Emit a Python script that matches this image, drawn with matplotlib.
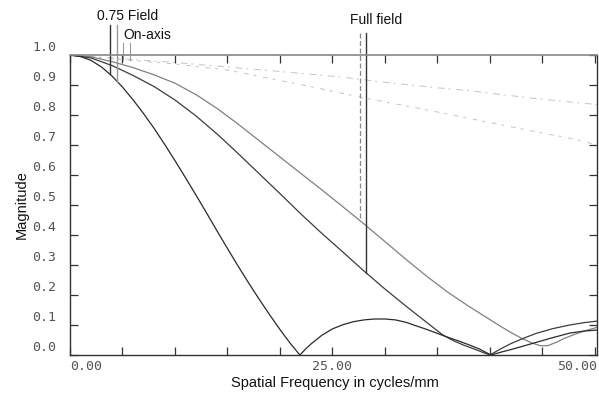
import numpy as np
import matplotlib
matplotlib.use("Agg")
import matplotlib.pyplot as plt

# ---- data ----
fA = [0, 1, 2, 3, 4, 5, 6, 7, 8, 9, 10, 11, 12, 13, 14, 15, 16, 17, 18, 19, 20, 21, 21.9,
      22.5, 23, 24, 25, 26, 27, 28, 29, 30, 31, 32, 33, 34, 35, 36, 37, 38, 39, 40.1,
      41, 42, 43, 44.4, 46, 47.6, 49, 50.2]
mA = [1.0, 0.995, 0.982, 0.96, 0.93, 0.893, 0.851, 0.805, 0.756, 0.703, 0.648, 0.591, 0.533,
      0.474, 0.414, 0.355, 0.297, 0.241, 0.187, 0.135, 0.085, 0.038, 0.0,
      0.022, 0.038, 0.066, 0.087, 0.101, 0.111, 0.117, 0.12, 0.12, 0.117, 0.109, 0.097,
      0.085, 0.072, 0.059, 0.047, 0.034, 0.02, 0.0,
      0.009, 0.018, 0.028, 0.042, 0.058, 0.073, 0.08, 0.083]

fB = [0, 2, 4, 6, 8, 10, 12, 14, 16, 18, 20, 22, 24, 26, 28, 30, 32, 34, 35.5,
      36.5, 37.5, 38.5, 39.3, 40, 41, 42, 43, 44.4, 46, 47.6, 49, 50.2]
mB = [1.0, 0.99, 0.965, 0.932, 0.895, 0.85, 0.797, 0.737, 0.672, 0.605, 0.538, 0.47, 0.405,
      0.343, 0.28, 0.22, 0.163, 0.108, 0.067, 0.048, 0.033, 0.02, 0.009, 0.0, 0.02, 0.038,
      0.053, 0.072, 0.088, 0.1, 0.108, 0.113]

fC = [0, 2, 4, 6, 8, 10, 12, 14, 16, 18, 20, 22, 24, 26, 28, 30, 32, 34, 36, 38, 40, 41,
      42, 43, 44, 44.8, 45.5, 46.3, 47, 48, 49, 50.2]
mC = [1.0, 0.994, 0.978, 0.958, 0.934, 0.906, 0.868, 0.822, 0.77, 0.715, 0.66, 0.605, 0.55,
      0.494, 0.437, 0.378, 0.319, 0.262, 0.209, 0.162, 0.118, 0.096, 0.075, 0.056, 0.04,
      0.031, 0.031, 0.042, 0.054, 0.068, 0.08, 0.092]

fD = [0, 10, 20, 25.7, 30.5, 35.2, 37.5, 43.8, 48.6, 50.2]
mD = [1.0, 0.975, 0.945, 0.927, 0.907, 0.89, 0.883, 0.857, 0.84, 0.835]

fE = [0, 10, 15, 20, 24, 27.6, 35, 39.7, 45, 47.6, 50.2]
mE = [1.0, 0.97, 0.95, 0.915, 0.887, 0.86, 0.81, 0.777, 0.74, 0.723, 0.70]

yticks = np.round(np.arange(0, 1.01, 0.1), 1)
ytick_labels = ["%.1f" % v for v in yticks]
xticks_major = [0, 25, 50]
xtick_labels = ["0.00", "25.00", "50.00"]
xticks_minor = np.arange(0, 51, 5)

# ---- figure ----
fig = plt.figure(figsize=(5.99, 3.98), dpi=100)
ax = fig.add_axes([70 / 599, 43 / 398, 527 / 599, 300 / 398])
ax.set_xlim(0, 50.2)
ax.set_ylim(0, 1.0)

ax.plot(fD, mD, color="#c4c4c4", lw=0.7, dashes=(7, 4, 2, 6))
ax.plot(fE, mE, color="#c4c4c4", lw=0.7, dashes=(5, 5, 3, 7))
ax.plot(fC, mC, color="#808080", lw=0.9)
ax.plot(fB, mB, color="#3c3c3c", lw=0.9)
ax.plot(fA, mA, color="#2a2a2a", lw=0.9)

# spines
for s in ["left", "bottom", "right"]:
    ax.spines[s].set_color("#333333")
    ax.spines[s].set_linewidth(1.0)
ax.spines["top"].set_color("#888888")
ax.spines["top"].set_linewidth(1.2)

# ticks
ax.set_xticks(xticks_minor)
ax.set_xticklabels([])
ax.set_yticks(yticks)
ax.set_yticklabels([])
ax.tick_params(axis="both", direction="in", length=6, width=0.9, color="#333333",
               top=True, right=True, labelbottom=False, labelleft=False)

mono = dict(family="DejaVu Sans Mono", fontsize=9.5, color="#555555")
for v, lab in zip(yticks, ytick_labels):
    ax.annotate(lab, xy=(0, v), xycoords="data", xytext=(-10, 5.5), textcoords="offset points",
                ha="right", va="center", annotation_clip=False, **mono)
for v, lab, ha in zip(xticks_major, xtick_labels, ["left", "center", "right"]):
    xx = v if v < 50 else 50.2
    ax.annotate(lab, xy=(xx, 0), xycoords="data", xytext=(0, -8), textcoords="offset points",
                ha=ha, va="center", annotation_clip=False, **mono)

sans = dict(family="Liberation Sans", color="#111111")
fig.text(335 / 599, 1 - 383 / 398, "Spatial Frequency in cycles/mm", ha="center", va="center",
         fontsize=10.5, **sans)
fig.text(22 / 599, 1 - 205 / 398, "Magnitude", ha="center", va="center", rotation=90,
         fontsize=10.5, **sans)

# leader lines and labels
def lead(x, y0, curve_f, curve_m, color, lw=1.0, ls="-"):
    y1 = np.interp(x, curve_f, curve_m)
    ax.plot([x, x], [y0, y1], color=color, lw=lw, ls=ls, clip_on=False)

lead(3.8, 1.10, fA, mA, "#333333")
lead(4.5, 1.10, fA, mA, "#999999")
ax.plot([5.05, 5.05], [1.04, 0.985], color="#999999", lw=0.8, clip_on=False)
ax.plot([5.7, 5.7], [1.04, 0.985], color="#999999", lw=0.8, clip_on=False)
lead(27.6, 1.073, fC, mC, "#888888", lw=0.9, ls=(0, (4, 2)))
lead(28.2, 1.073, fB, mB, "#333333")

ax.text(2.57, 1.13, "0.75 Field", ha="left", va="center", fontsize=10, clip_on=False, **sans)
ax.text(5.1, 1.067, "On-axis", ha="left", va="center", fontsize=10, clip_on=False, **sans)
ax.text(26.7, 1.117, "Full field", ha="left", va="center", fontsize=10, clip_on=False, **sans)

fig.savefig("out.png", dpi=100)
